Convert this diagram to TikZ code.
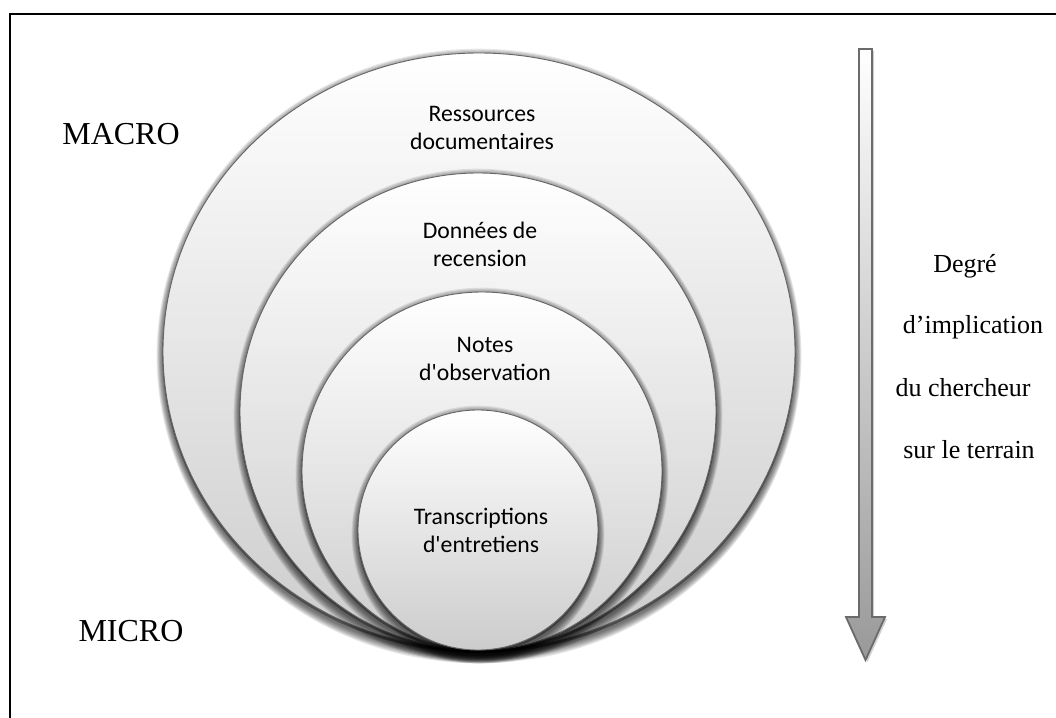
\documentclass[tikz,border=0pt]{standalone}
\usepackage{fontspec}
\setmainfont{Liberation Serif}
\newfontfamily\calibri{Carlito}
\usetikzlibrary{shadows}

\begin{document}
\begin{tikzpicture}[x=1pt,y=-1pt]
\tikzset{
    halo/.style={%
        fill=black, opacity=0.09
        },
    rim/.style={%
        fill=black, opacity=0.35
        },
    ring/.style={%
        draw=black!60, line width=0.9pt,
        top color=white, middle color=white, bottom color=black!20
        },
    lab/.style={%
        font=\calibri\fontsize{23.7}{28}\selectfont,
        align=center, inner sep=0pt
        },
    side/.style={%
        font=\fontsize{26}{30}\selectfont,
        anchor=base, inner sep=0pt
        },
    level/.style={%
        font=\fontsize{32}{36}\selectfont,
        anchor=base, inner sep=0pt
        },
}
\useasboundingbox (0,0) rectangle (1056,717);
\clip (0,0) rectangle (1056,717);
\fill[white] (0,0) rectangle (1056,717);
%%%FRAME
\draw[line width=2.6pt] (10,760) -- (10,14) -- (1100,14);
%%%CIRCLES
\foreach \cx/\cy/\rx/\ry in {479/351.5/316/298.5, 478/411.5/238/238.5, 482/471/180/179, 478/530/120/120}{
  \foreach \k in {1,...,8}
    \fill[halo] (\cx,\cy+4.5) ellipse [x radius={\rx+0.8*\k}, y radius={\ry+1.1*\k}];
  \fill[rim] (\cx,\cy+2.5) ellipse [x radius={\rx+0.5}, y radius={\ry+0.5}];
  \shade[ring] (\cx,\cy) ellipse [x radius=\rx, y radius=\ry];
}
%%%LABELS
\node[lab] (ressources) at (482,128) {Ressources\\documentaires};
\node[lab] (donnees) at (480,244) {Données de\\recension};
\node[lab] (notes) at (485,359) {Notes\\d\textquotesingle observation};
\node[lab] (transcriptions) at (481,530) {Transcriptions\\d\textquotesingle entretiens};
\node[level] (macro) at (121,144) {MACRO};
\node[level] (micro) at (131,641) {MICRO};
%%%ARROW
\shade[top color=white, bottom color=black!40, draw=black!58, line width=1.8pt,
  drop shadow={shadow xshift=2pt, shadow yshift=-2pt, fill=black!30, opacity=0.6}]
  (859,49) -- (872,49) -- (872,617) -- (885,617) -- (865.5,660) -- (846,617) -- (859,617) -- cycle;
\node[side] (degre) at (965,272) {Degré};
\node[side] (implication) at (973,333) {d’implication};
\node[side] (chercheur) at (963,396) {du chercheur};
\node[side] (terrain) at (969,458) {sur le terrain};
\end{tikzpicture}
\end{document}
